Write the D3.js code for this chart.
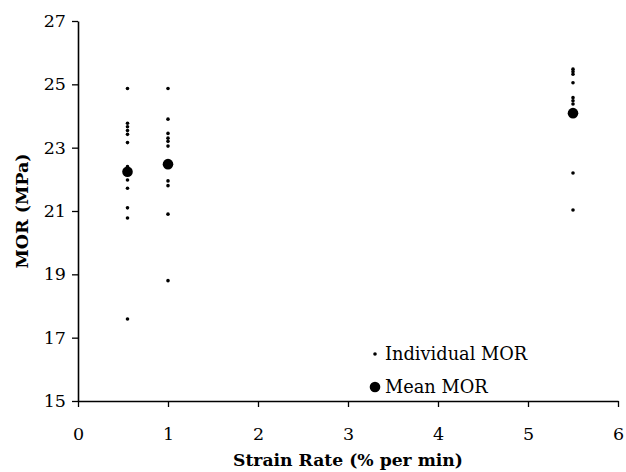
<!DOCTYPE html>
<html>
<head>
<meta charset="utf-8">
<script src="https://cdn.jsdelivr.net/npm/d3@7"></script>
<style>
  html, body { margin: 0; padding: 0; background: #fff; }
  svg { display: block; }
  text { font-family: "DejaVu Serif", "Liberation Serif", serif; fill: #000; }
</style>
</head>
<body>
<svg id="chart" width="626" height="472"></svg>
<script>
// Strain rate groups (% per min)
const strainRates = [0.55, 1, 5.5];
// Individual MOR values (MPa) per strain rate
const individual055 = [24.87, 23.77, 23.66, 23.54, 23.42, 23.16, 22.4, 21.98, 21.72, 21.1, 20.78, 17.59];
const individual1 = [24.87, 23.9, 23.45, 23.3, 23.2, 23.05, 21.95, 21.8, 20.9, 18.8];
const individual55 = [25.48, 25.4, 25.32, 25.05, 24.58, 24.48, 24.38, 22.2, 21.03];
// Mean MOR values (MPa)
const meanMOR = [22.24, 22.48, 24.09];
// Axis ticks
const xTicks = [0, 1, 2, 3, 4, 5, 6];
const yTicks = [15, 17, 19, 21, 23, 25, 27];
const legendLabels = ["Individual MOR", "Mean MOR"];

const individualGroups = [individual055, individual1, individual55];
const individualPoints = [];
individualGroups.forEach((g, i) => g.forEach(v => individualPoints.push({ x: strainRates[i], y: v })));
const meanPoints = strainRates.map((x, i) => ({ x: x, y: meanMOR[i] }));

const svg = d3.select("#chart");
const m = { left: 78, right: 618, top: 21, bottom: 401 };

const x = d3.scaleLinear().domain([0, 6]).range([m.left, m.right]);
const y = d3.scaleLinear().domain([15, 27]).range([m.bottom, m.top]);

// Axes
const xAxis = svg.append("g")
  .attr("transform", `translate(0,${m.bottom})`)
  .call(d3.axisBottom(x).tickValues(xTicks).tickFormat(d3.format("d")).tickSize(6).tickSizeOuter(0).tickPadding(21));
const yAxis = svg.append("g")
  .attr("transform", `translate(${m.left},0)`)
  .call(d3.axisLeft(y).tickValues(yTicks).tickFormat(d3.format("d")).tickSize(6).tickSizeOuter(0).tickPadding(6));

[xAxis, yAxis].forEach(a => {
  a.select(".domain").attr("stroke", "#000").attr("stroke-width", 1.6);
  a.selectAll(".tick line").attr("stroke", "#000").attr("stroke-width", 1.3);
  a.selectAll(".tick text")
    .attr("font-family", "'DejaVu Serif', serif")
    .attr("font-size", 17.5)
    .attr("fill", "#000");
});

// Individual points
svg.append("g").selectAll("circle")
  .data(individualPoints)
  .join("circle")
  .attr("cx", d => x(d.x))
  .attr("cy", d => y(d.y))
  .attr("r", 1.8)
  .attr("fill", "#000");

// Mean points
svg.append("g").selectAll("circle")
  .data(meanPoints)
  .join("circle")
  .attr("cx", d => x(d.x))
  .attr("cy", d => y(d.y))
  .attr("r", 5.3)
  .attr("fill", "#000");

// Axis titles
svg.append("text")
  .attr("x", x(3))
  .attr("y", 466)
  .attr("text-anchor", "middle")
  .attr("font-size", 17.2)
  .attr("font-weight", "bold")
  .text("Strain Rate (% per min)");

svg.append("text")
  .attr("transform", `translate(28,${(m.top + m.bottom) / 2}) rotate(-90)`)
  .attr("text-anchor", "middle")
  .attr("font-size", 17.5)
  .attr("font-weight", "bold")
  .text("MOR (MPa)");

// Legend
const legend = svg.append("g");
const legendItems = [
  { label: legendLabels[0], r: 1.8, cy: 354 },
  { label: legendLabels[1], r: 5.3, cy: 387 }
];
legendItems.forEach(it => {
  legend.append("circle").attr("cx", 375).attr("cy", it.cy).attr("r", it.r).attr("fill", "#000");
  legend.append("text")
    .attr("x", 385)
    .attr("y", it.cy)
    .attr("dy", "0.35em")
    .attr("font-size", 17.8)
    .text(it.label);
});
</script>
</body>
</html>
